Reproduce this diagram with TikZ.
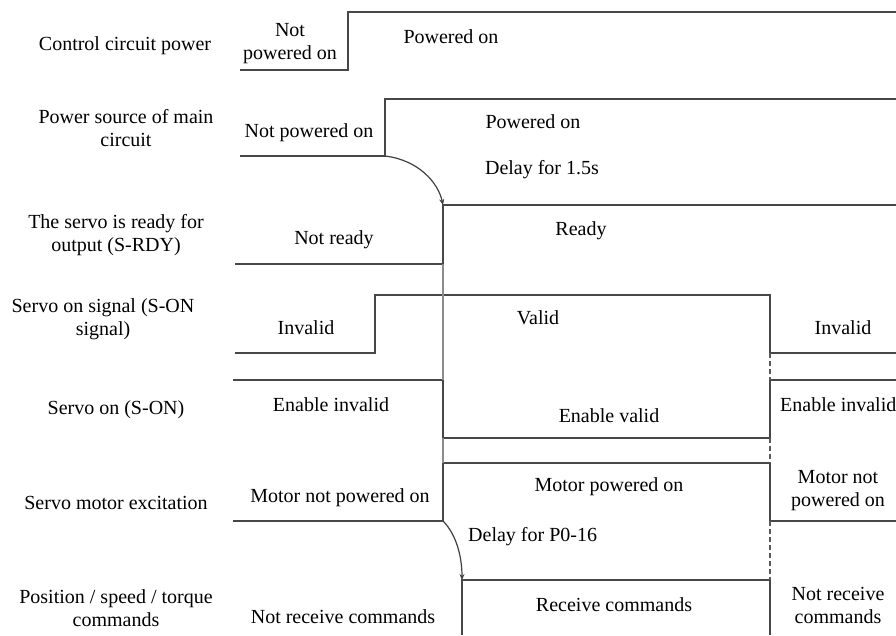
\documentclass[tikz,border=0pt]{standalone}
\usepackage{fontspec}
\setmainfont{Liberation Serif}[Ligatures=TeX]
\newfontfamily\tnr{Liberation Serif}
\usetikzlibrary{arrows.meta}
\begin{document}
\begin{tikzpicture}[x=1pt,y=-1pt,
  sig/.style={draw=black!72,line width=1.7pt},
  guide/.style={draw=black!45,line width=1.4pt},
  dsh/.style={draw=black!65,line width=1.4pt,dash pattern=on 5pt off 3pt},
  dly/.style={draw=black!75,line width=1.2pt,-{Stealth[length=6pt,width=5pt]}},
  lbl/.style={font=\tnr\fontsize{20}{23}\selectfont,align=center,inner sep=0pt,text=black},
  txt/.style={font=\tnr\fontsize{20}{23}\selectfont,align=center,inner sep=0pt,text=black}]
\useasboundingbox (0,0) rectangle (896,635);
% row labels
\node[lbl] (l1) at (125,46) {Control circuit power};
\node[lbl] (l2) at (126,128) {Power source of main\\circuit};
\node[lbl] (l3) at (116,235) {The servo is ready for\\output (S-RDY)};
\node[lbl] (l4) at (103,319) {Servo on signal (S-ON\\signal)};
\node[lbl] (l5) at (116,410) {Servo on (S-ON)};
\node[lbl] (l6) at (116,503) {Servo motor excitation};
\node[lbl] (l7) at (116,608) {Position / speed / torque\\commands};
% waveforms
\draw[sig] (240,70) -- (348,70) -- (348,12) -- (896,12);
\draw[sig] (240,156) -- (385,156) -- (385,99) -- (896,99);
\draw[sig] (235,264) -- (443,264) -- (443,205) -- (896,205);
\draw[sig] (235,353) -- (375,353) -- (375,295) -- (770,295) -- (770,353) -- (896,353);
\draw[sig] (233,380) -- (443,380) -- (443,438) -- (770,438) -- (770,380) -- (896,380);
\draw[sig] (233,521) -- (443,521) -- (443,463) -- (770,463) -- (770,521) -- (896,521);
\draw[sig] (462,635) -- (462,580) -- (770,580) -- (770,635);
% guides
\draw[guide] (443,264) -- (443,380);
\draw[guide] (443,438) -- (443,463);
\draw[dsh] (770,353) -- (770,380);
\draw[dsh] (770,438) -- (770,463);
\draw[dsh] (770,521) -- (770,580);
% delays
\coordinate (d1s) at (385,156);
\coordinate (d1e) at (443,205);
\coordinate (d2s) at (443,521);
\coordinate (d2e) at (462,580);
\draw[dly] (d1s) .. controls (418,160) and (438,182) .. (d1e);
\draw[dly] (d2s) .. controls (456,534) and (462,556) .. (d2e);
% state texts
\node[txt] (t1a) at (290,44) {Not\\powered on};
\node[txt] (t1b) at (451,37) {Powered on};
\node[txt] (t2a) at (309,133) {Not powered on};
\node[txt] (t2b) at (533,122) {Powered on};
\node[txt] (t2c) at (542,170) {Delay for 1.5s};
\node[txt] (t3a) at (334,240) {Not ready};
\node[txt] (t3b) at (581,231) {Ready};
\node[txt] (t4a) at (306,328) {Invalid};
\node[txt] (t4b) at (538,318) {Valid};
\node[txt] (t4c) at (843,328) {Invalid};
\node[txt] (t5a) at (331,405) {Enable invalid};
\node[txt] (t5b) at (609,416) {Enable valid};
\node[txt,anchor=west] (t5c) at (780,405) {Enable invalid};
\node[txt] (t6a) at (340,498) {Motor not powered on};
\node[txt] (t6b) at (609,487) {Motor powered on};
\node[txt] (t6c) at (838,491) {Motor not\\powered on};
\node[txt,anchor=west] (t6d) at (468,537) {Delay for P0-16};
\node[txt] (t7a) at (343,617) {Not receive commands};
\node[txt] (t7b) at (614,605) {Receive commands};
\node[txt] (t7c) at (838,605) {Not receive\\commands};
\end{tikzpicture}
\end{document}
